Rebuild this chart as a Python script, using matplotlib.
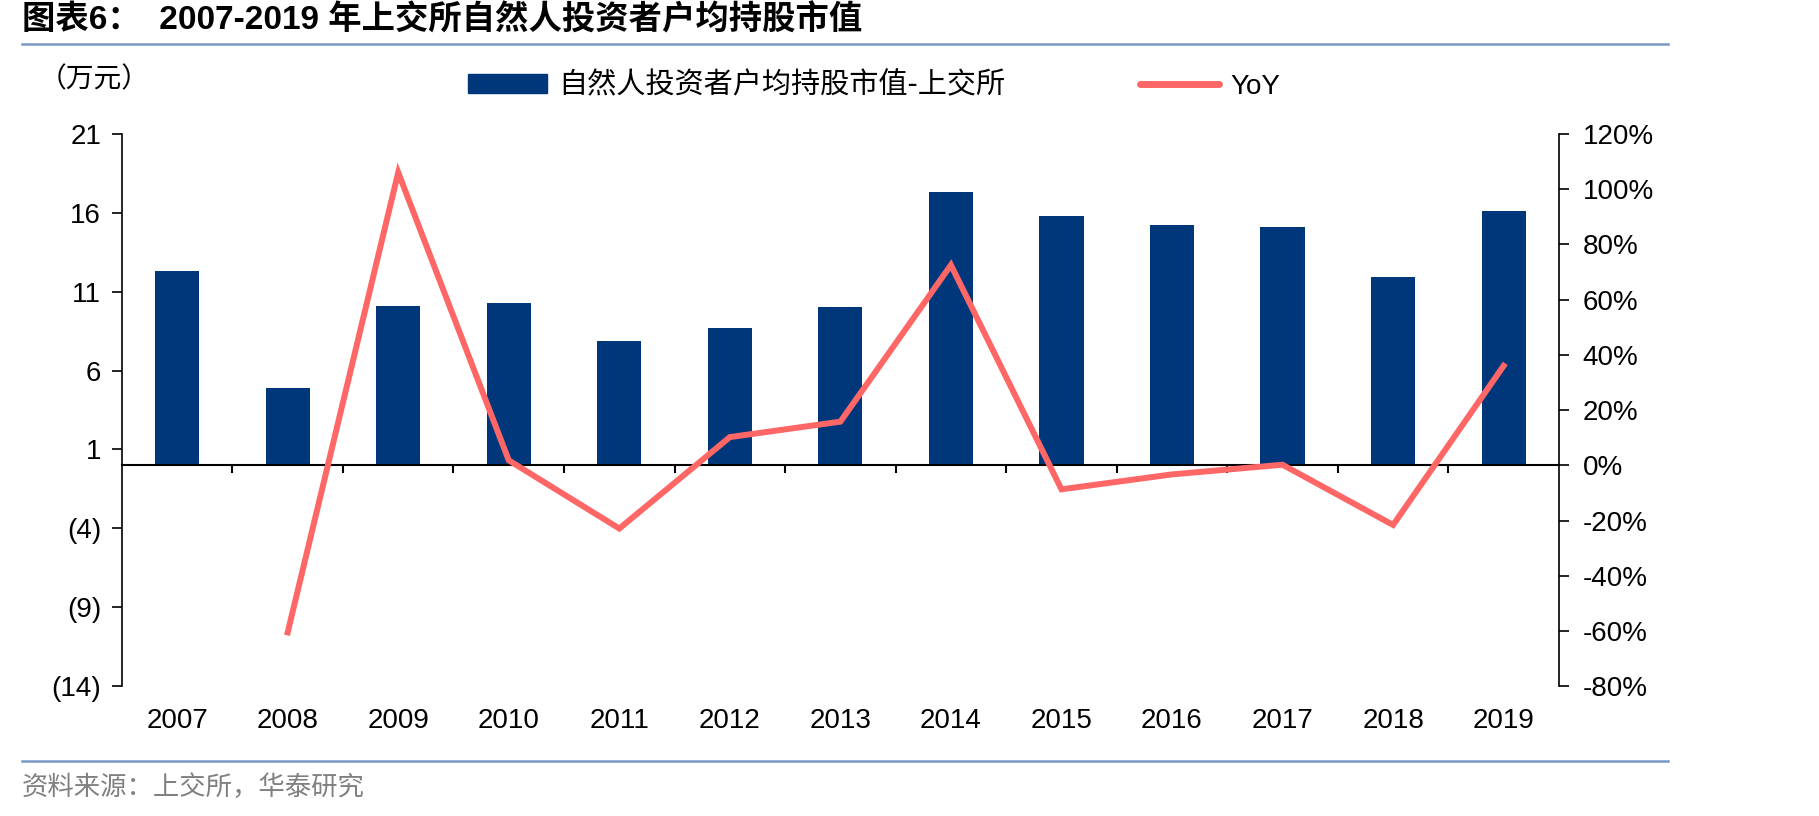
import numpy as np
import matplotlib
matplotlib.use('Agg')
import matplotlib.pyplot as plt
from matplotlib.lines import Line2D
from matplotlib.patches import Patch

# data
years = ['2007', '2008', '2009', '2010', '2011', '2012', '2013',
         '2014', '2015', '2016', '2017', '2018', '2019']
avg_value = [12.3, 4.9, 10.1, 10.25, 7.9, 8.7, 10.05,
             17.3, 15.8, 15.2, 15.1, 11.9, 16.1]   # 万元
yoy = [np.nan, -60.5, 106.0, 1.8, -22.9, 10.2, 15.8,
       72.5, -8.7, -3.3, 0.2, -21.6, 36.0]          # %

left_ticks = [21, 16, 11, 6, 1, -4, -9, -14]
right_ticks = [120, 100, 80, 60, 40, 20, 0, -20, -40, -60, -80]

bar_color = '#00377a'
line_color = '#ff6666'
rule_color = '#7b98c6'

latin = ['Liberation Sans', 'Noto Sans CJK SC', 'DejaVu Sans']
cjk = ['Noto Sans CJK SC', 'DejaVu Sans']
plt.rcParams['font.family'] = latin

fig = plt.figure(figsize=(18.19, 8.16), dpi=100)
ax = fig.add_axes([0.067, 0.159, 0.790, 0.677])
ax2 = ax.twinx()

x = np.arange(len(years))
ax.bar(x, avg_value, width=0.4, color=bar_color, zorder=2)
ax2.plot(x, yoy, color=line_color, lw=4.3, solid_joinstyle='miter', zorder=3)

ax.set_xlim(-0.5, len(years) - 0.5)
ax.set_ylim(-14, 21)
ax2.set_ylim(-80, 120)

def paren(v):
    return '(%d)' % -v if v < 0 else '%d' % v

ax.set_yticks(left_ticks, [paren(v) for v in left_ticks])
ax2.set_yticks(right_ticks, ['%d%%' % v for v in right_ticks])

# x axis sits at zero, ticks between categories
for a in (ax, ax2):
    a.spines['top'].set_visible(False)
    a.spines['bottom'].set_visible(False)
ax.spines['right'].set_visible(False)
ax2.spines['left'].set_visible(False)
ax.spines['bottom'].set_visible(True)
ax.spines['bottom'].set_position(('data', 0))
ax.spines['bottom'].set_linewidth(1.5)
ax.spines['left'].set_linewidth(1.2)
ax2.spines['right'].set_linewidth(1.2)
ax.set_xticks(x[:-1] + 0.5)
ax.tick_params(axis='x', direction='out', length=6, width=1.5, labelbottom=False)
ax.tick_params(axis='y', direction='out', length=7, width=1.2, labelsize=20, pad=8)
ax2.tick_params(axis='y', direction='out', length=7, width=1.2, labelsize=20, pad=10)

sec = ax.secondary_xaxis('bottom')
sec.set_xticks(x, years)
sec.tick_params(length=0, labelsize=20, pad=16)
sec.spines['bottom'].set_visible(False)

# legend
handles = [Patch(color=bar_color), Line2D([], [], color=line_color, lw=5, solid_capstyle='round')]
labels = ['自然人投资者户均持股市值-上交所', 'YoY']
leg = fig.legend(handles, labels, loc='center left', bbox_to_anchor=(0.243, 0.895),
                 ncol=2, frameon=False, handlelength=2.7, handleheight=0.6,
                 handletextpad=0.4, columnspacing=4.6, prop={'family': cjk, 'size': 21})
leg.get_texts()[1].set_family(latin)
leg.get_texts()[1].set_size(20)

fig.text(0.021, 0.903, '（万元）', fontsize=20, family=cjk, va='center')

# title and rules
fig.text(0.012, 0.975, '图表6：  2007-2019 年上交所自然人投资者户均持股市值',
         fontsize=24, fontweight='bold', family=latin, va='center')
fig.add_artist(Line2D([0.012, 0.917], [0.946, 0.946], color=rule_color, lw=1.8))
fig.add_artist(Line2D([0.012, 0.917], [0.067, 0.067], color=rule_color, lw=1.8))
fig.text(0.012, 0.035, '资料来源：上交所，华泰研究', fontsize=19, family=cjk,
         color='#808080', va='center')

fig.savefig('out.png', dpi=100)
